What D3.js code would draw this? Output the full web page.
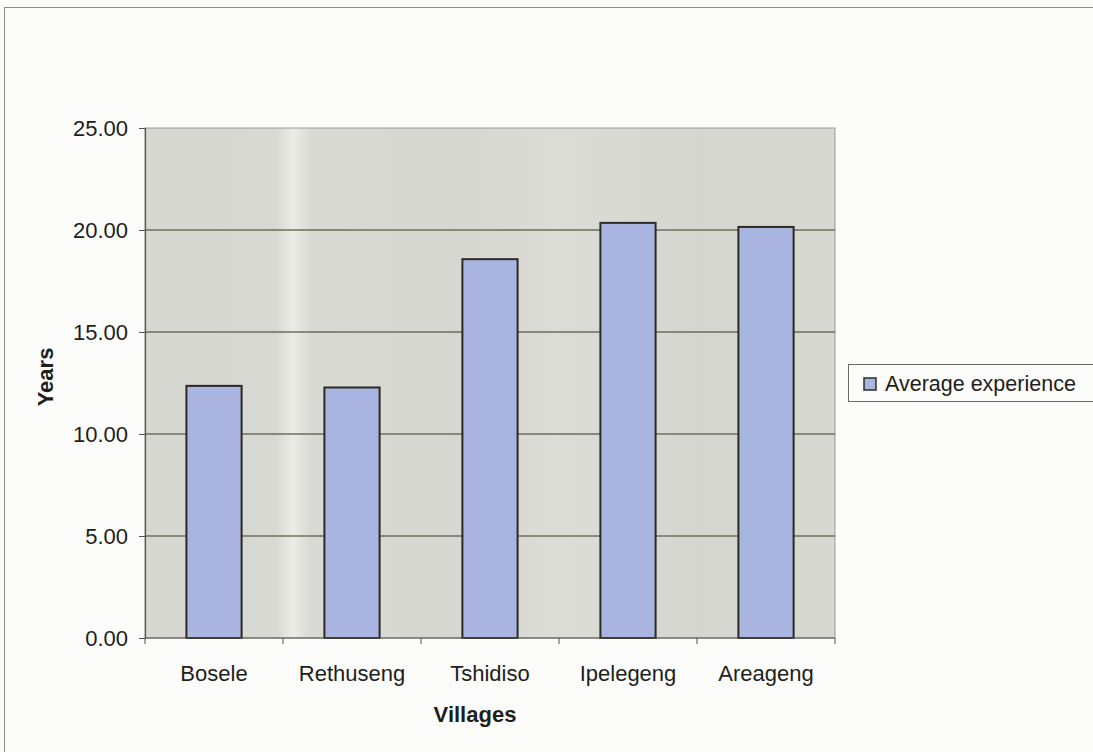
<!DOCTYPE html>
<html>
<head>
<meta charset="utf-8">
<script src="https://cdn.jsdelivr.net/npm/d3@7"></script>
<style>
  html, body { margin: 0; padding: 0; background: #fbfbf9; }
  svg { display: block; }
  text { font-family: Arial, "Liberation Sans", sans-serif; fill: #1e1e1a; }
</style>
</head>
<body>
<svg id="chart" width="1093" height="752"></svg>
<script>
// Average years of experience per village
const villages = ["Bosele", "Rethuseng", "Tshidiso", "Ipelegeng", "Areageng"];
const experience = [12.36, 12.28, 18.57, 20.35, 20.15];
const yTicks = [0, 5, 10, 15, 20, 25];
const seriesName = "Average experience";

const svg = d3.select("#chart");
const W = 1093, H = 752;
const plot = { left: 145, top: 128, right: 835, bottom: 638 };
const FONT = 22;

// chart frame
svg.append("rect").attr("x", 4.5).attr("y", 7.5).attr("width", W + 10).attr("height", H + 10)
  .attr("fill", "#fcfcfa").attr("stroke", "#8c8c86").attr("stroke-width", 1);

// plot background with soft vertical light bands
const defs = svg.append("defs");
const grad = defs.append("linearGradient").attr("id", "plotbg")
  .attr("x1", "0").attr("x2", "1").attr("y1", "0").attr("y2", "0");
[[0, "#d7d7d1"], [0.19, "#d9d9d3"], [0.215, "#ebebe7"], [0.24, "#dadad4"],
 [0.45, "#d7d7d1"], [0.6, "#dcdcd6"], [0.8, "#d6d6d0"], [1, "#d8d8d2"]]
  .forEach(([o, c]) => grad.append("stop").attr("offset", o).attr("stop-color", c));

svg.append("rect").attr("x", plot.left).attr("y", plot.top)
  .attr("width", plot.right - plot.left).attr("height", plot.bottom - plot.top)
  .attr("fill", "url(#plotbg)").attr("stroke", "#9a9a92").attr("stroke-width", 1);

const x = d3.scaleBand().domain(villages).range([plot.left, plot.right]).paddingInner(0.6).paddingOuter(0.3);
const xCat = d3.scaleBand().domain(villages).range([plot.left, plot.right]);
const y = d3.scaleLinear().domain([0, 25]).range([plot.bottom, plot.top]);

// gridlines
svg.append("g").selectAll("line").data(yTicks.filter(t => t > 0 && t < 25)).join("line")
  .attr("x1", plot.left).attr("x2", plot.right)
  .attr("y1", d => y(d)).attr("y2", d => y(d))
  .attr("stroke", "#6e6e5e").attr("stroke-width", 1.3);

// bars
svg.append("g").selectAll("rect").data(villages).join("rect")
  .attr("x", d => x(d)).attr("width", x.bandwidth())
  .attr("y", (d, i) => y(experience[i]))
  .attr("height", (d, i) => y(0) - y(experience[i]))
  .attr("fill", "#a9b5e0").attr("stroke", "#2b2b22").attr("stroke-width", 2);

// y axis
const yAxis = d3.axisLeft(y).tickValues(yTicks).tickFormat(d3.format(".2f")).tickSize(6).tickPadding(11);
const gy = svg.append("g").attr("transform", `translate(${plot.left},0)`).call(yAxis);
gy.select(".domain").attr("stroke", "#55554a").attr("stroke-width", 1.2);
gy.selectAll(".tick line").attr("stroke", "#55554a");
gy.selectAll(".tick text").attr("font-size", FONT).attr("fill", "#1e1e1a")
  .attr("font-family", "Arial, 'Liberation Sans', sans-serif");

// x axis with ticks between categories
const gx = svg.append("g").attr("transform", `translate(0,${plot.bottom})`);
gx.append("line").attr("x1", plot.left).attr("x2", plot.right).attr("y1", 0).attr("y2", 0)
  .attr("stroke", "#55554a").attr("stroke-width", 1.2);
const bounds = villages.map(v => xCat(v)).concat([plot.right]);
gx.selectAll("line.tk").data(bounds).join("line").attr("class", "tk")
  .attr("x1", d => d).attr("x2", d => d).attr("y1", 0).attr("y2", 6)
  .attr("stroke", "#55554a");
gx.selectAll("text").data(villages).join("text")
  .attr("x", d => xCat(d) + xCat.bandwidth() / 2).attr("y", 43)
  .attr("text-anchor", "middle").attr("font-size", FONT).text(d => d);

// axis titles
svg.append("text").attr("x", 475).attr("y", 722).attr("text-anchor", "middle")
  .attr("font-size", FONT).attr("font-weight", "bold").text("Villages");
svg.append("text").attr("transform", "translate(53,377) rotate(-90)").attr("text-anchor", "middle")
  .attr("font-size", FONT).attr("font-weight", "bold").text("Years");

// legend
const lg = svg.append("g");
lg.append("rect").attr("x", 848.5).attr("y", 364.5).attr("width", 250).attr("height", 37)
  .attr("fill", "#fcfcfa").attr("stroke", "#6a6a62").attr("stroke-width", 1);
lg.append("rect").attr("x", 864).attr("y", 378).attr("width", 12).attr("height", 12)
  .attr("fill", "#a9b5e0").attr("stroke", "#2b2b22").attr("stroke-width", 1.5);
lg.append("text").attr("x", 885).attr("y", 391).attr("font-size", 21.5).text(seriesName);
</script>
</body>
</html>
